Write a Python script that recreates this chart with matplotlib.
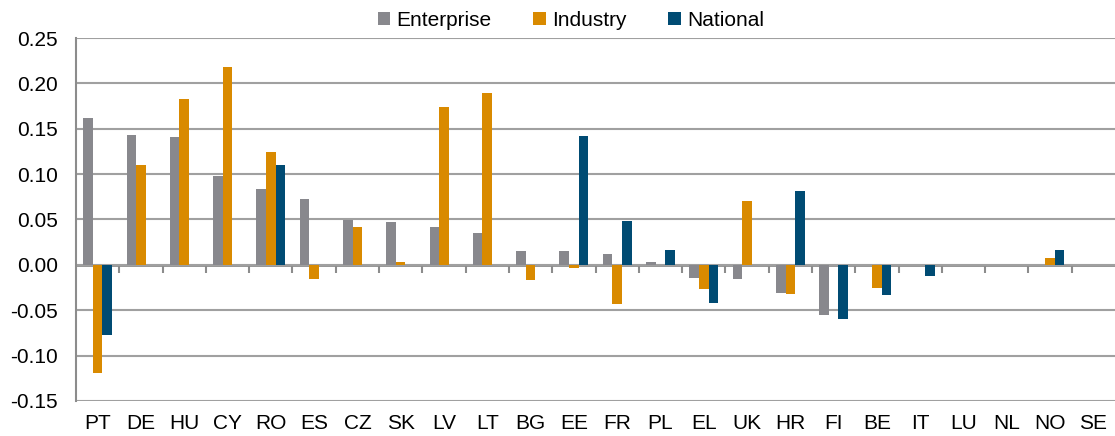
import numpy as np
import matplotlib
matplotlib.use("Agg")
from matplotlib import pyplot as plt

plt.rcParams['font.family'] = ['Liberation Sans', 'DejaVu Sans']

# countries in chart order
countries = ["PT", "DE", "HU", "CY", "RO", "ES", "CZ", "SK", "LV", "LT", "BG", "EE",
             "FR", "PL", "EL", "UK", "HR", "FI", "BE", "IT", "LU", "NL", "NO", "SE"]

# values (nan = no bar)
nan = np.nan
enterprise = [0.162, 0.143, 0.141, 0.098, 0.084, 0.073, 0.050, 0.047, 0.042, 0.035, 0.015, 0.015,
              0.012, 0.003, -0.015, -0.016, -0.031, -0.055, nan, nan, nan, nan, nan, nan]
industry = [-0.119, 0.110, 0.183, 0.218, 0.124, -0.016, 0.042, 0.003, 0.174, 0.189, -0.017, -0.003,
            -0.043, nan, -0.027, 0.070, -0.032, nan, -0.026, nan, nan, nan, 0.008, nan]
national = [-0.077, nan, nan, nan, 0.110, nan, nan, nan, nan, nan, nan, 0.142,
            0.048, 0.016, -0.042, nan, 0.081, -0.060, -0.033, -0.012, nan, nan, 0.016, nan]

series = [("Enterprise", enterprise, "#88888d"),
          ("Industry", industry, "#d98a00"),
          ("National", national, "#004b73")]

grid_col = "#a0a0a0"
axis_col = "#8c8c8c"

fig = plt.figure(figsize=(11.15, 4.36), dpi=100)
ax = fig.add_axes([76 / 1115, 35 / 436, 1 - 76 / 1115, 363 / 436])

x = np.arange(len(countries))
w = 0.222
handles = []
for i, (name, vals, col) in enumerate(series):
    b = ax.bar(x + (i - 1) * w, vals, width=w, color=col, label=name, zorder=3)
    handles.append(b)

ymin, ymax = -0.15, 0.25
ax.set_ylim(ymin, ymax)
ax.set_xlim(-0.5, len(countries) - 0.5)

# y axis
ax.set_yticks(np.arange(-0.15, 0.2501, 0.05))
ax.set_yticklabels([f"{v:.2f}" for v in np.arange(-0.15, 0.2501, 0.05)])
ax.tick_params(axis="y", which="major", length=0, pad=13, labelsize=15)
ax.set_yticks([0], minor=True)
ax.tick_params(axis="y", which="minor", length=6, width=2, color=axis_col)
ax.yaxis.grid(True, color=grid_col, linewidth=1.5, zorder=0)
ax.set_axisbelow(True)

for s in ["top", "right", "bottom"]:
    ax.spines[s].set_visible(False)
ax.spines["left"].set_color(axis_col)
ax.spines["left"].set_linewidth(1.5)

# category labels at the bottom
ax.set_xticks(x)
ax.set_xticklabels(countries)
ax.tick_params(axis="x", length=0, pad=9, labelsize=15)

# zero line with ticks between categories
zero_loc = (0 - ymin) / (ymax - ymin)
sec = ax.secondary_xaxis(zero_loc)
sec.set_xticks(np.arange(0.5, len(countries) - 0.5, 1.0))
sec.set_xticklabels([])
sec.tick_params(axis="x", direction="out", length=6, width=1.5, color=axis_col)
sec.spines["bottom"].set_color(axis_col)
sec.spines["bottom"].set_linewidth(2)

fig.legend(handles=handles, loc="center", bbox_to_anchor=(0.512, 0.953), ncol=3,
           frameon=False, fontsize=15, handlelength=0.6, handleheight=0.6,
           handletextpad=0.3, columnspacing=2.0, borderaxespad=0)

fig.savefig("out.png", dpi=100)
